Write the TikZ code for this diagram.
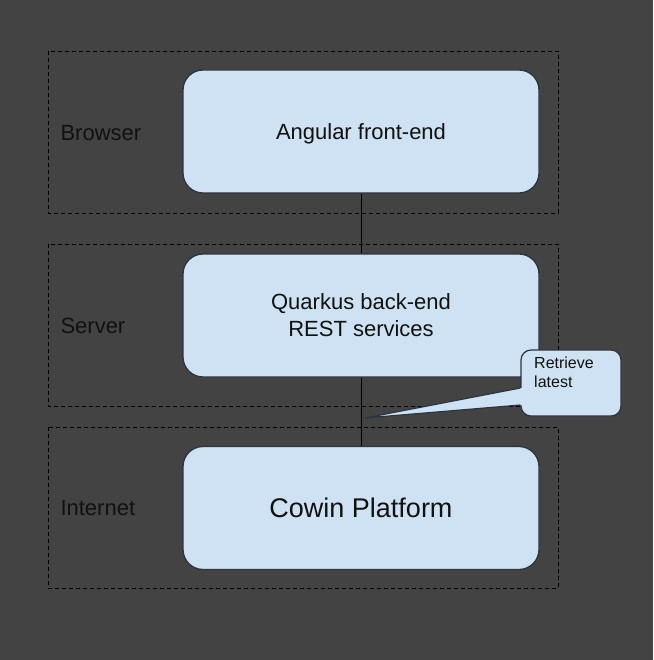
\documentclass[tikz,border=0pt]{standalone}
\usepackage{fontspec}
\setmainfont{Liberation Sans}
\definecolor{bgc}{HTML}{434343}
\definecolor{boxfill}{HTML}{CFE2F3}
\definecolor{boxline}{HTML}{2B3440}
\definecolor{txt}{HTML}{111111}
\begin{document}
\begin{tikzpicture}[x=1pt,y=-1pt,
  zone/.style={draw=black, dashed, dash pattern=on 4pt off 3pt, line width=0.9pt},
  comp/.style={draw=boxline, fill=boxfill, line width=1.3pt, rounded corners=20pt, minimum width=356pt, minimum height=123pt, align=center, font=\fontsize{22}{27}\selectfont, text=txt},
  zlabel/.style={anchor=west, font=\fontsize{22}{26}\selectfont, text=txt},
  link/.style={draw=black, line width=1pt}]
\fill[bgc] (0,0) rectangle (653,660);
\useasboundingbox (0,0) rectangle (653,660);
% zones
\draw[zone] (48,51) rectangle (558,213);
\draw[zone] (48,244) rectangle (558,406);
\draw[zone] (48,427) rectangle (558,588);
\node[zlabel] (lbrowser) at (57,133) {Browser};
\node[zlabel] (lserver) at (57,326) {Server};
\node[zlabel] (linternet) at (57,508) {Internet};
% components
\node[comp, text height=22pt, text depth=5pt] (angular) at (361,131.5) {Angular front-end};
\node[comp] (quarkus) at (361,315.5) {Quarkus back-end\\REST services};
\node[comp, font=\fontsize{27}{31}\selectfont] (cowin) at (361,508) {Cowin Platform};
\draw[link] (angular.south) -- (quarkus.north);
\draw[link] (quarkus.south) -- (cowin.north);
% callout
\node[draw=boxline, fill=boxfill, line width=1.2pt, rounded corners=10pt, minimum width=100pt, minimum height=66pt] (callout) at (571,383) {};
\coordinate (tip) at (365,418);
\fill[boxfill] (callout.west |- 0,388) -- (tip) -- (callout.west |- 0,405) -- ([xshift=3pt]callout.west |- 0,405) -- ([xshift=3pt]callout.west |- 0,388) -- cycle;
\draw[boxline, line width=1.2pt, line join=round] (callout.west |- 0,388) -- (tip) -- (callout.west |- 0,405);
\node[anchor=north west, align=left, inner sep=0pt, font=\fontsize{16}{19}\selectfont, text=txt] (ctext) at (534,357) {Retrieve\\latest};
\end{tikzpicture}
\end{document}
